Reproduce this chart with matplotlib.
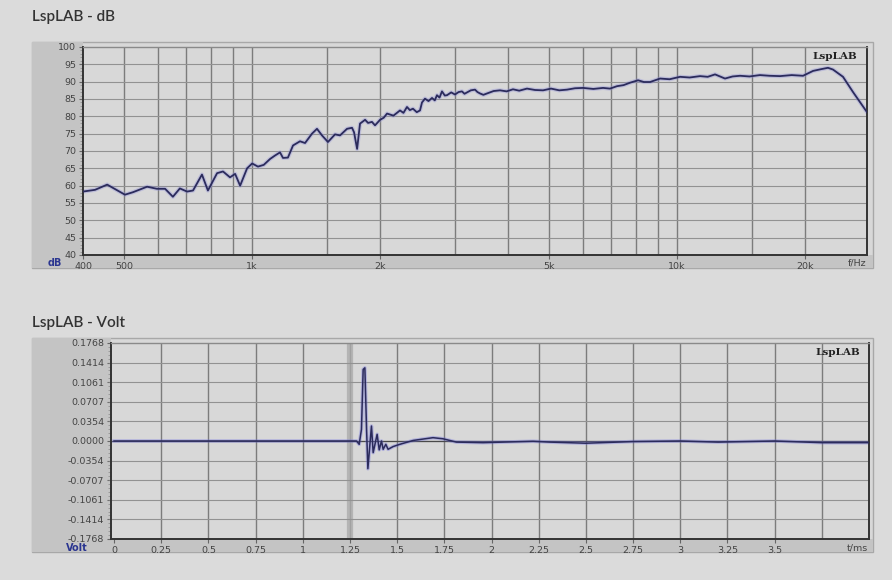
import numpy as np
import matplotlib
matplotlib.use('Agg')
import matplotlib.pyplot as plt
from matplotlib.patches import Rectangle
from matplotlib.ticker import FixedLocator, NullFormatter

# frequency response
freq_hz = [400, 427, 456, 502, 524, 566, 597, 624, 651, 676,
           703, 726, 762, 787, 827, 854, 887, 912, 937, 973,
           1000, 1032, 1065, 1102, 1132, 1163, 1182, 1214, 1248, 1296,
           1332, 1383, 1421, 1460, 1508, 1567, 1610, 1672, 1718, 1737,
           1766, 1794, 1844, 1874, 1914, 1946, 2000, 2040, 2077, 2150,
           2228, 2270, 2314, 2350, 2390, 2440, 2483, 2510, 2551, 2600,
           2650, 2690, 2722, 2760, 2797, 2840, 2874, 2940, 3001, 3060,
           3117, 3160, 3203, 3270, 3345, 3390, 3437, 3500, 3570, 3700,
           3830, 3970, 4109, 4250, 4433, 4630, 4836, 5050, 5280, 5507,
           5750, 6008, 6350, 6693, 6950, 7220, 7480, 7747, 8093, 8350,
           8636, 9117, 9600, 10160, 10700, 11320, 11800, 12279, 12960, 13500,
           14060, 14800, 15660, 16500, 17460, 18600, 19780, 20880, 21800, 22640,
           23260, 24560, 25930, 26930, 27970]
level_db = [58.3, 58.8, 60.3, 57.4, 58.1, 59.7, 59.1, 59.1, 56.8, 59.2,
            58.3, 58.6, 63.2, 58.6, 63.6, 64.1, 62.4, 63.4, 60.0, 65.0,
            66.4, 65.5, 66.0, 67.7, 68.7, 69.6, 68.0, 68.1, 71.6, 72.8,
            72.3, 75.0, 76.4, 74.5, 72.6, 74.8, 74.5, 76.4, 76.7, 75.4,
            70.6, 77.9, 79.0, 78.1, 78.4, 77.4, 79.0, 79.6, 80.8, 80.2,
            81.7, 81.0, 82.7, 81.8, 82.2, 81.2, 81.7, 84.0, 85.1, 84.4,
            85.3, 84.6, 86.1, 85.4, 87.2, 86.0, 86.1, 86.9, 86.3, 87.0,
            87.2, 86.5, 86.9, 87.5, 87.7, 87.0, 86.6, 86.2, 86.6, 87.3,
            87.5, 87.2, 87.8, 87.4, 88.0, 87.6, 87.5, 88.0, 87.5, 87.7,
            88.1, 88.2, 87.9, 88.2, 88.0, 88.7, 89.0, 89.7, 90.4, 89.9,
            89.9, 90.9, 90.7, 91.4, 91.2, 91.6, 91.4, 92.1, 90.9, 91.5,
            91.7, 91.5, 91.9, 91.7, 91.6, 91.9, 91.7, 93.1, 93.6, 94.0,
            93.5, 91.4, 87.0, 84.1, 81.2]

freq_ticks = [400, 500, 1000, 2000, 5000, 10000, 20000]
freq_labels = ['400', '500', '1k', '2k', '5k', '10k', '20k']
freq_grid = [500, 600, 700, 800, 900, 1000, 1500, 2000, 3000, 4000,
             5000, 6000, 7000, 8000, 9000, 10000, 15000, 20000]
db_ticks = list(range(40, 101, 5))

# impulse response
time_ms = [0.0, 1.285, 1.299, 1.311, 1.320, 1.329, 1.338, 1.345, 1.355, 1.364,
           1.373, 1.394, 1.405, 1.417, 1.426, 1.44, 1.452, 1.479, 1.514, 1.585,
           1.69, 1.743, 1.814, 1.955, 2.22, 2.31, 2.5, 2.75, 3.0, 3.2,
           3.5, 3.75, 4.0]
volt = [0.0, 0.0, -0.006, 0.021, 0.129, 0.132, 0.021, -0.050, -0.009, 0.027,
        -0.021, 0.012, -0.016, 0.0, -0.015, -0.006, -0.015, -0.010, -0.006, 0.001,
        0.006, 0.004, -0.002, -0.003, -0.0005, -0.002, -0.004, -0.001, 0.0, -0.002,
        0.0, -0.003, -0.003]

time_ticks = [0, 0.25, 0.5, 0.75, 1, 1.25, 1.5, 1.75, 2, 2.25, 2.5, 2.75, 3, 3.25, 3.5]
time_labels = ['0', '0.25', '0.5', '0.75', '1', '1.25', '1.5', '1.75', '2',
               '2.25', '2.5', '2.75', '3', '3.25', '3.5']
volt_ticks = [0.1768, 0.1414, 0.1061, 0.0707, 0.0354, 0.0,
              -0.0354, -0.0707, -0.1061, -0.1414, -0.1768]
volt_labels = ['0.1768', '0.1414', '0.1061', '0.0707', '0.0354', '0.0000',
               '-0.0354', '-0.0707', '-0.1061', '-0.1414', '-0.1768']

W, H = 892, 580
BG = '#dbdbdb'
PLOT_BG = '#d8d8d8'
STRIP = '#c4c4c4'
GRID_V = '#7c7c7c'
GRID_H = '#929292'
LINE = '#2b2b5c'
TXT = '#444444'
BLUE = '#2a3590'


def rect_px(x0, y0, x1, y1):
    # pixel box (top-left origin) -> figure fraction [l, b, w, h]
    return [x0 / W, 1 - y1 / H, (x1 - x0) / W, (y1 - y0) / H]


def frame(fig, x0, y0, x1, y1, ax_left, ax_bottom):
    l, b, w, h = rect_px(x0, y0, x1, y1)
    fig.add_artist(Rectangle((l, b), w, h, transform=fig.transFigure,
                             facecolor=PLOT_BG, edgecolor='#a8a8a8', lw=1.0, zorder=0))
    # left label strip
    l, b, w, h = rect_px(x0, y0, ax_left, y1)
    fig.add_artist(Rectangle((l, b), w, h, transform=fig.transFigure,
                             facecolor=STRIP, edgecolor='none', zorder=0))
    # bottom label strip
    l, b, w, h = rect_px(x0, ax_bottom, x1, y1)
    fig.add_artist(Rectangle((l, b), w, h, transform=fig.transFigure,
                             facecolor=STRIP, edgecolor='none', zorder=0))


def style_axes(ax):
    ax.set_facecolor(PLOT_BG)
    for side in ['left', 'bottom', 'right']:
        ax.spines[side].set_color('#333333')
        ax.spines[side].set_linewidth(1.4)
    ax.spines['top'].set_color('#8a8a8a')
    ax.spines['top'].set_linewidth(1.0)
    ax.tick_params(axis='both', which='major', direction='out', length=3,
                   width=0.8, color='#666666', labelsize=6.8, labelcolor=TXT, pad=2)
    ax.tick_params(axis='both', which='minor', direction='out', length=2,
                   width=0.5, color='#888888')


fig = plt.figure(figsize=(W / 100, H / 100), dpi=100, facecolor=BG)

# ---------------- dB panel ----------------
frame(fig, 32, 42, 873, 268, 83, 255)
ax1 = fig.add_axes(rect_px(83, 47, 867, 255))
style_axes(ax1)
ax1.set_xscale('log')
ax1.set_xlim(400, 27970)
ax1.set_ylim(40, 100)
for f in freq_grid:
    ax1.axvline(f, color=GRID_V, lw=1.0, zorder=1)
for d in db_ticks[1:-1]:
    ax1.axhline(d, color=GRID_H, lw=0.8, zorder=1)
ax1.plot(freq_hz, level_db, color='#8a8ad8', lw=3.0, alpha=0.35, zorder=2)
ax1.plot(freq_hz, level_db, color=LINE, lw=1.3, zorder=3)
ax1.xaxis.set_major_locator(FixedLocator(freq_ticks))
ax1.set_xticklabels(freq_labels)
ax1.xaxis.set_minor_locator(FixedLocator([]))
ax1.xaxis.set_minor_formatter(NullFormatter())
ax1.set_yticks(db_ticks)
ax1.set_yticklabels([str(d) for d in db_ticks])
ax1.yaxis.set_minor_locator(FixedLocator(list(range(40, 101))))
ax1.text(0.988, 0.975, 'LspLAB', transform=ax1.transAxes, ha='right', va='top',
         fontsize=7.5, fontweight='bold', family='DejaVu Serif', color='#222222')
fig.text(48 / W, 1 - 263 / H, 'dB', fontsize=7, fontweight='bold', color=BLUE,
         ha='left', va='center')
fig.text(866 / W, 1 - 263 / H, 'f/Hz', fontsize=6.8, color=TXT, ha='right', va='center')
fig.text(32 / W, 1 - 17 / H, 'LspLAB - dB', fontsize=11, color='#333333',
         family='Lato', fontweight='semibold', ha='left', va='center')

# ---------------- Volt panel ----------------
frame(fig, 32, 338, 873, 552, 111, 539)
ax2 = fig.add_axes(rect_px(111, 343, 869, 539))
style_axes(ax2)
ax2.set_xlim(-0.016, 4.0)
ax2.set_ylim(-0.1768, 0.1768)
for t in np.arange(0.25, 3.9, 0.25):
    ax2.axvline(t, color=GRID_V, lw=1.0, zorder=1)
ax2.axvline(1.25, color='#ababab', lw=4.5, alpha=0.8, zorder=1)
for v in volt_ticks[1:-1]:
    ax2.axhline(v, color=GRID_H, lw=0.8, zorder=1)
ax2.axhline(0.0, color='#4a4a4a', lw=0.9, zorder=1)
ax2.plot(time_ms, volt, color='#6a6ae0', lw=2.6, alpha=0.35, zorder=2)
ax2.plot(time_ms, volt, color=LINE, lw=1.1, zorder=3)
ax2.set_xticks(time_ticks)
ax2.set_xticklabels(time_labels)
ax2.set_yticks(volt_ticks)
ax2.set_yticklabels(volt_labels)
ax2.yaxis.set_minor_locator(FixedLocator(list(np.linspace(-0.1768, 0.1768, 51))))
ax2.text(0.988, 0.975, 'LspLAB', transform=ax2.transAxes, ha='right', va='top',
         fontsize=7.5, fontweight='bold', family='DejaVu Serif', color='#222222')
fig.text(66 / W, 1 - 548 / H, 'Volt', fontsize=7, fontweight='bold', color=BLUE,
         ha='left', va='center')
fig.text(868 / W, 1 - 548 / H, 't/ms', fontsize=6.8, color=TXT, ha='right', va='center')
fig.text(32 / W, 1 - 323 / H, 'LspLAB - Volt', fontsize=11, color='#333333',
         family='Lato', fontweight='semibold', ha='left', va='center')

fig.savefig('out.png', dpi=100, facecolor=BG)
